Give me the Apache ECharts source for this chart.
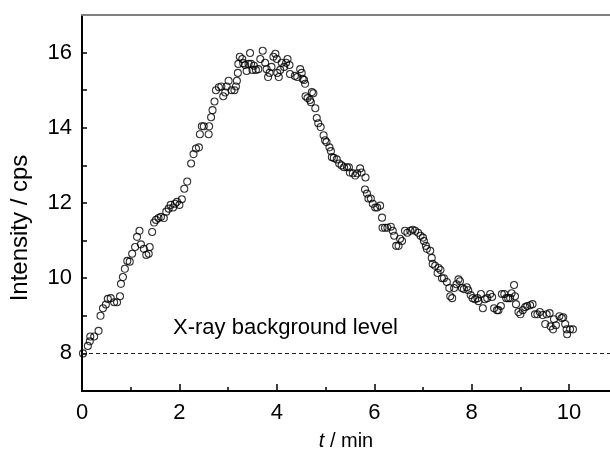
<!DOCTYPE html>
<html>
<head>
<meta charset="utf-8">
<script src="https://cdn.jsdelivr.net/npm/echarts@6/dist/echarts.min.js"></script>
<style>
  html, body { margin: 0; padding: 0; background: #fff; }
  #main { width: 610px; height: 458px; }
</style>
</head>
<body>
<div id="main"></div>
<script>
// 时间 (min) 与 强度 (cps)
const tMin = [
  0.02, 0.12, 0.16, 0.17, 0.25, 0.34, 0.38, 0.43, 0.49, 0.53,
  0.59, 0.66, 0.72, 0.78, 0.80, 0.84, 0.88, 0.93, 0.98, 1.03,
  1.09, 1.13, 1.18, 1.21, 1.27, 1.32, 1.37, 1.39, 1.44, 1.48,
  1.52, 1.57, 1.62, 1.68, 1.73, 1.78, 1.82, 1.87, 1.91, 1.95,
  2.00, 2.05, 2.10, 2.16, 2.24, 2.29, 2.34, 2.40, 2.42, 2.46,
  2.50, 2.60, 2.61, 2.65, 2.68, 2.72, 2.75, 2.81, 2.86, 2.90,
  2.94, 2.97, 3.01, 3.07, 3.13, 3.16, 3.18, 3.20, 3.21, 3.24,
  3.29, 3.31, 3.35, 3.38, 3.42, 3.45, 3.47, 3.50, 3.53, 3.57,
  3.62, 3.66, 3.71, 3.76, 3.79, 3.82, 3.85, 3.89, 3.93, 3.97,
  4.00, 4.01, 4.04, 4.07, 4.10, 4.15, 4.19, 4.22, 4.26, 4.27,
  4.37, 4.42, 4.48, 4.51, 4.53, 4.56, 4.58, 4.59, 4.63, 4.68,
  4.70, 4.72, 4.75, 4.79, 4.82, 4.85, 4.90, 4.96, 4.99, 5.02,
  5.08, 5.11, 5.13, 5.17, 5.23, 5.28, 5.33, 5.38, 5.44, 5.48,
  5.50, 5.56, 5.61, 5.65, 5.71, 5.74, 5.81, 5.82, 5.85, 5.88,
  5.93, 5.97, 6.02, 6.06, 6.12, 6.16, 6.17, 6.22, 6.27, 6.34,
  6.38, 6.41, 6.45, 6.50, 6.53, 6.57, 6.63, 6.68, 6.74, 6.79,
  6.84, 6.90, 6.95, 7.00, 7.02, 7.06, 7.08, 7.15, 7.18, 7.20,
  7.25, 7.30, 7.32, 7.36, 7.39, 7.43, 7.49, 7.54, 7.56, 7.60,
  7.64, 7.69, 7.73, 7.76, 7.80, 7.84, 7.90, 7.93, 7.98, 8.02,
  8.07, 8.12, 8.14, 8.19, 8.23, 8.27, 8.32, 8.38, 8.42, 8.46,
  8.52, 8.55, 8.60, 8.62, 8.67, 8.71, 8.75, 8.79, 8.82, 8.87,
  8.89, 8.91, 8.96, 9.00, 9.05, 9.10, 9.14, 9.20, 9.25, 9.30,
  9.35, 9.40, 9.46, 9.51, 9.54, 9.60, 9.62, 9.67, 9.69, 9.73,
  9.80, 9.85, 9.88, 9.92, 9.95, 9.96, 10.02, 10.08
];
const cps = [
  8.00, 8.20, 8.32, 8.45, 8.45, 8.60, 9.00, 9.20, 9.30, 9.45,
  9.47, 9.36, 9.36, 9.52, 9.85, 10.03, 10.25, 10.46, 10.44, 10.65,
  10.83, 11.10, 11.26, 10.90, 10.78, 10.62, 10.65, 10.83, 11.23, 11.48,
  11.55, 11.60, 11.63, 11.60, 11.77, 11.85, 11.95, 11.88, 11.98, 12.03,
  11.95, 12.10, 12.38, 12.57, 13.05, 13.30, 13.45, 13.48, 13.83, 14.04,
  14.04, 13.83, 14.04, 14.28, 14.47, 14.70, 15.00, 15.08, 15.10, 14.84,
  14.94, 15.10, 15.25, 15.00, 15.00, 15.10, 15.25, 15.46, 15.70, 15.89,
  15.83, 15.72, 15.67, 15.51, 15.70, 15.99, 15.70, 15.54, 15.65, 15.54,
  15.56, 15.83, 16.05, 15.73, 15.56, 15.35, 15.46, 15.62, 15.89, 15.97,
  15.83, 15.46, 15.35, 15.54, 15.73, 15.62, 15.73, 15.83, 15.67, 15.43,
  15.38, 15.35, 15.56, 15.46, 15.30, 15.27, 15.17, 14.84, 14.79, 14.74,
  14.68, 14.95, 14.92, 14.52, 14.26, 14.12, 14.02, 13.80, 13.67, 13.62,
  13.48, 13.38, 13.22, 13.20, 13.16, 13.05, 13.00, 12.95, 12.95, 12.95,
  12.81, 12.79, 12.73, 12.79, 12.92, 12.81, 12.36, 12.68, 12.25, 12.12,
  12.12, 11.98, 11.88, 11.88, 11.93, 11.61, 11.34, 11.34, 11.34, 11.37,
  11.26, 11.13, 10.86, 10.86, 11.05, 10.99, 11.26, 11.21, 11.26, 11.29,
  11.26, 11.21, 11.13, 11.08, 10.99, 10.86, 10.78, 10.73, 10.54, 10.38,
  10.33, 10.14, 10.27, 10.22, 10.00, 10.00, 9.90, 9.74, 9.52, 9.47,
  9.74, 9.84, 9.97, 9.92, 9.74, 9.71, 9.76, 9.68, 9.55, 9.47,
  9.44, 9.47, 9.39, 9.58, 9.20, 9.44, 9.47, 9.58, 9.50, 9.20,
  9.15, 9.15, 9.26, 9.58, 9.58, 9.47, 9.47, 9.47, 9.60, 9.82,
  9.52, 9.31, 9.10, 9.04, 9.15, 9.23, 9.26, 9.28, 9.31, 9.04,
  9.04, 9.10, 9.02, 8.78, 9.04, 9.07, 8.72, 8.64, 8.91, 8.75,
  8.99, 8.94, 8.96, 8.78, 8.64, 8.51, 8.64, 8.64
];
const backgroundLevel = 8;
const xMajorTicks = [0, 2, 4, 6, 8, 10];
const xMinorTicks = [1, 3, 5, 7, 9];
const yTicks = [7, 8, 9, 10, 11, 12, 13, 14, 15, 16];
const yLabels = [8, 10, 12, 14, 16];

const FONT = '"Liberation Sans", Arial, sans-serif';
const points = tMin.map((t, i) => [t, cps[i]]);

const myChart = echarts.init(document.getElementById('main'));
const option = {
  animation: false,
  textStyle: { fontFamily: FONT },
  grid: { left: 82, right: 0, top: 15, bottom: 67 },
  title: {
    text: 'X-ray background level',
    left: 168, top: 312,
    textStyle: { fontFamily: FONT, fontSize: 22, fontWeight: 'normal', color: '#000' }
  },
  xAxis: [
    {
      type: 'value', position: 'bottom', min: 0, max: 10.84,
      splitLine: { show: false },
      axisLine: { onZero: false, lineStyle: { color: '#000', width: 2 } },
      axisTick: { inside: true, length: 7, customValues: xMajorTicks, lineStyle: { color: '#000', width: 1.5 } },
      axisLabel: { customValues: xMajorTicks, fontSize: 22, color: '#000', margin: 11, fontFamily: FONT },
      name: '{i|t} / min',
      nameLocation: 'middle', nameGap: 40,
      nameTextStyle: {
        fontSize: 20, color: '#000', fontFamily: FONT,
        rich: { i: { fontStyle: 'italic', fontSize: 20, fontFamily: FONT } }
      }
    },
    {
      // 奇数位置的短刻度
      type: 'value', position: 'bottom', min: 0, max: 10.84,
      splitLine: { show: false },
      axisLine: { show: false },
      axisTick: { inside: true, length: 4, customValues: xMinorTicks, lineStyle: { color: '#000', width: 1.5 } },
      axisLabel: { show: false }
    },
    {
      // 顶部灰线
      type: 'value', position: 'top', min: 0, max: 10.84,
      splitLine: { show: false },
      axisLine: { lineStyle: { color: '#808080', width: 2 } },
      axisTick: { show: false },
      axisLabel: { show: false }
    }
  ],
  yAxis: {
    type: 'value', min: 7, max: 17,
    splitLine: { show: false },
    axisLine: { onZero: false, lineStyle: { color: '#000', width: 2 } },
    axisTick: { inside: true, length: 5, customValues: yTicks, lineStyle: { color: '#000', width: 1.5 } },
    axisLabel: { customValues: yLabels, fontSize: 22, color: '#000', margin: 10, fontFamily: FONT },
    name: 'Intensity / cps',
    nameLocation: 'middle', nameGap: 50, nameRotate: 90,
    // 标题中心比绘图区中心略低
    nameTextStyle: { fontSize: 24, color: '#000', fontFamily: FONT, padding: [0, 50, 0, 0] }
  },
  series: [
    {
      type: 'scatter',
      xAxisIndex: 0,
      data: points,
      symbol: 'circle',
      symbolSize: 7,
      itemStyle: { color: 'rgba(255,255,255,0)', borderColor: '#000', borderWidth: 1.1 },
      markLine: {
        silent: true,
        symbol: 'none',
        label: { show: false },
        lineStyle: { color: '#222', width: 1, type: [4, 3] },
        data: [{ yAxis: backgroundLevel }]
      }
    }
  ]
};
myChart.setOption(option);
</script>
</body>
</html>
